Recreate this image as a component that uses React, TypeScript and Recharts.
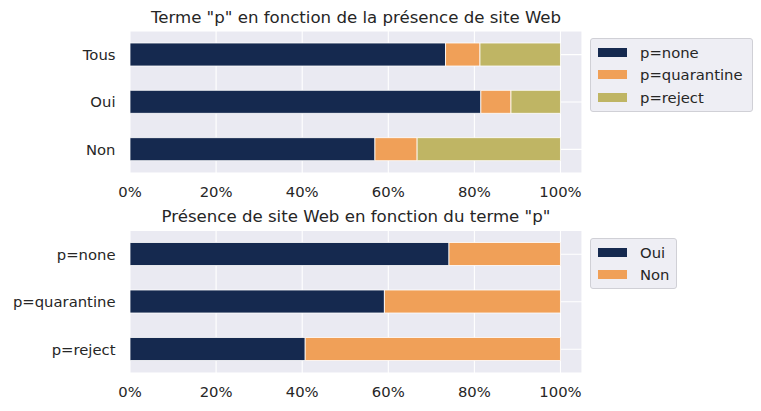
import { Bar, BarChart, CartesianGrid, XAxis, YAxis } from "recharts";

const topCategories = ["Tous", "Oui", "Non"];
const topNone = [0.733, 0.815, 0.569];
const topQuarantine = [0.08, 0.07, 0.098];
const topReject = [0.187, 0.115, 0.333];

const bottomCategories = ["p=none", "p=quarantine", "p=reject"];
const bottomOui = [0.741, 0.591, 0.407];
const bottomNon = [0.259, 0.409, 0.593];

const xTicks = [0, 0.2, 0.4, 0.6, 0.8, 1];

const NAVY = "#15294f";
const ORANGE = "#f0a058";
const OLIVE = "#bfb564";
const TEXT = "#262626";
const FONT = "DejaVu Sans, sans-serif";
const FS = 14.8;

const topData = topCategories.map((cat, i) => ({ cat, none: topNone[i], quarantine: topQuarantine[i], reject: topReject[i] }));
const bottomData = bottomCategories.map((cat, i) => ({ cat, oui: bottomOui[i], non: bottomNon[i] }));

type Item = { key: string; label: string; color: string };
const topSeries: Item[] = [
  { key: "none", label: "p=none", color: NAVY },
  { key: "quarantine", label: "p=quarantine", color: ORANGE },
  { key: "reject", label: "p=reject", color: OLIVE },
];
const bottomSeries: Item[] = [
  { key: "oui", label: "Oui", color: NAVY },
  { key: "non", label: "Non", color: ORANGE },
];

function LegendBox({ items, left, top, width }: { items: Item[]; left: number; top: number; width: number }) {
  return (
    <div style={{ position: "absolute", left, top, width, boxSizing: "border-box", border: "1px solid #d0d0d6", borderRadius: 3, background: "#eeeef4", padding: "2px 0 2px 7px", fontFamily: FONT, fontSize: FS, color: TEXT }}>
      {items.map((it) => (
        <div key={it.key} style={{ display: "flex", alignItems: "center", height: 22.5 }}>
          <span style={{ display: "inline-block", width: 29, height: 9, background: it.color, marginRight: 13 }} />
          <span>{it.label}</span>
        </div>
      ))}
    </div>
  );
}

function StackChart({ data, series, top }: { data: Array<Record<string, string | number>>; series: Item[]; top: number }) {
  return (
    <BarChart width={761} height={203} data={data} layout="vertical" margin={{ top, right: 179, left: 0, bottom: 0 }} barSize={23}>
      <CartesianGrid stroke="#ffffff" strokeWidth={1.1} fill="#eaeaf2" />
      <XAxis type="number" domain={[0, 1.05]} ticks={xTicks} allowDataOverflow tickFormatter={(v) => `${Math.round(v * 100)}%`} axisLine={false} tickLine={false} tickMargin={7.5} height={30} tick={{ fill: TEXT, fontSize: FS, fontFamily: FONT }} />
      <YAxis type="category" dataKey="cat" width={130} axisLine={false} tickLine={false} tickMargin={8.5} tick={{ fill: TEXT, fontSize: FS, fontFamily: FONT }} />
      {series.map((s) => (
        <Bar key={s.key} dataKey={s.key} stackId="a" fill={s.color} stroke="#ffffff" strokeWidth={0.8} isAnimationActive={false} />
      ))}
    </BarChart>
  );
}

const titleStyle = { position: "absolute" as const, left: 56, width: 600, textAlign: "center" as const, fontFamily: FONT, fontSize: 16.6, color: TEXT, lineHeight: "20px" };

export default function App() {
  return (
    <div style={{ position: "absolute", left: 0, top: 0, width: 761, height: 411, background: "#ffffff" }}>
      <div style={{ ...titleStyle, top: 8 }}>Terme "p" en fonction de la présence de site Web</div>
      <div style={{ ...titleStyle, top: 207 }}>Présence de site Web en fonction du terme "p"</div>
      <div style={{ position: "absolute", left: 0, top: 0 }}>
        <StackChart data={topData} series={topSeries} top={31} />
      </div>
      <div style={{ position: "absolute", left: 0, top: 200 }}>
        <StackChart data={bottomData} series={bottomSeries} top={30.5} />
      </div>
      <LegendBox items={topSeries} left={590} top={38} width={163} />
      <LegendBox items={bottomSeries} left={590} top={238} width={87} />
    </div>
  );
}
